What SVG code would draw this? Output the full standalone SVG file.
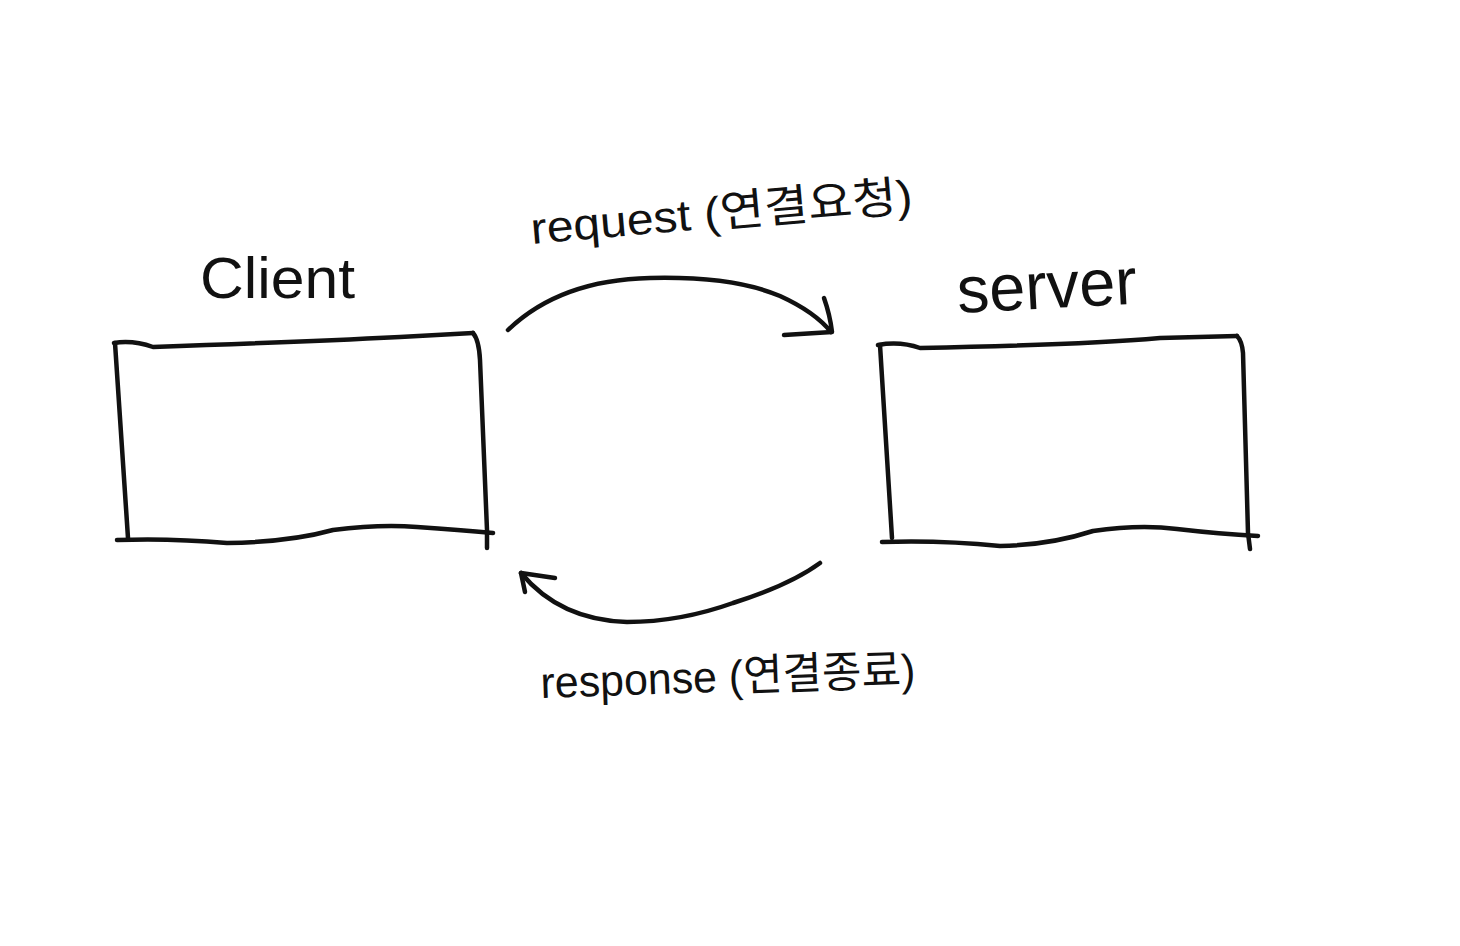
<svg xmlns="http://www.w3.org/2000/svg" width="1460" height="946" viewBox="0 0 1460 946">
  <style>
    .ink { fill: none; stroke: #111; stroke-width: 4.5; stroke-linecap: round; stroke-linejoin: round; }
    .label { fill: #111; font-family: "Liberation Sans", "Noto Sans CJK KR", sans-serif; }
  </style>
  <rect width="1460" height="946" fill="#fff"/>

  <!-- Client box -->
  <g id="client">
    <path class="ink" d="M114,343 Q133,340 153,347 Q300,342 400,337 L473,333"/>
    <path class="ink" d="M115,343 L128,538"/>
    <path class="ink" d="M473,333 Q479,340 480,360 L487,530 L487,548"/>
    <path class="ink" d="M117,540 Q170,538 227,543 Q290,542 333,530 Q380,524 417,527 Q460,530 493,533"/>
    <text class="label" x="200" y="298" font-size="58" textLength="155" lengthAdjust="spacingAndGlyphs">Client</text>
  </g>

  <!-- Server box -->
  <g id="server">
    <path class="ink" d="M878,345 Q900,341 920,348 Q1080,345 1160,338 L1237,336"/>
    <path class="ink" d="M880,345 L892,538"/>
    <path class="ink" d="M1237,336 Q1242,341 1243,353 L1248,533 L1250,549"/>
    <path class="ink" d="M882,542 Q940,540 1000,546 Q1050,545 1093,531 Q1140,524 1177,529 Q1220,534 1258,536"/>
    <text class="label" x="958" y="313" font-size="66" textLength="180" lengthAdjust="spacingAndGlyphs" transform="rotate(-3 958 313)">server</text>
  </g>

  <!-- Connectors -->
  <g id="connectors">
    <g id="request">
      <path class="ink" d="M508,330 Q560,280 650,278 Q733,276 780,296 Q815,312 831,332"/>
      <path class="ink" d="M824,298 Q830,315 832,332 L784,335"/>
      <text class="label" x="532" y="244" font-size="44" textLength="383" lengthAdjust="spacingAndGlyphs" transform="rotate(-5 532 244)">request (연결요청)</text>
    </g>
    <g id="response">
      <path class="ink" d="M820,563 Q790,585 733,603 Q680,622 627,622 Q560,620 521,573"/>
      <path class="ink" d="M555,578 L521,573 L525,592"/>
      <text class="label" x="541" y="698" font-size="44" textLength="375" lengthAdjust="spacingAndGlyphs" transform="rotate(-2 541 698)">response (연결종료)</text>
    </g>
  </g>
</svg>
